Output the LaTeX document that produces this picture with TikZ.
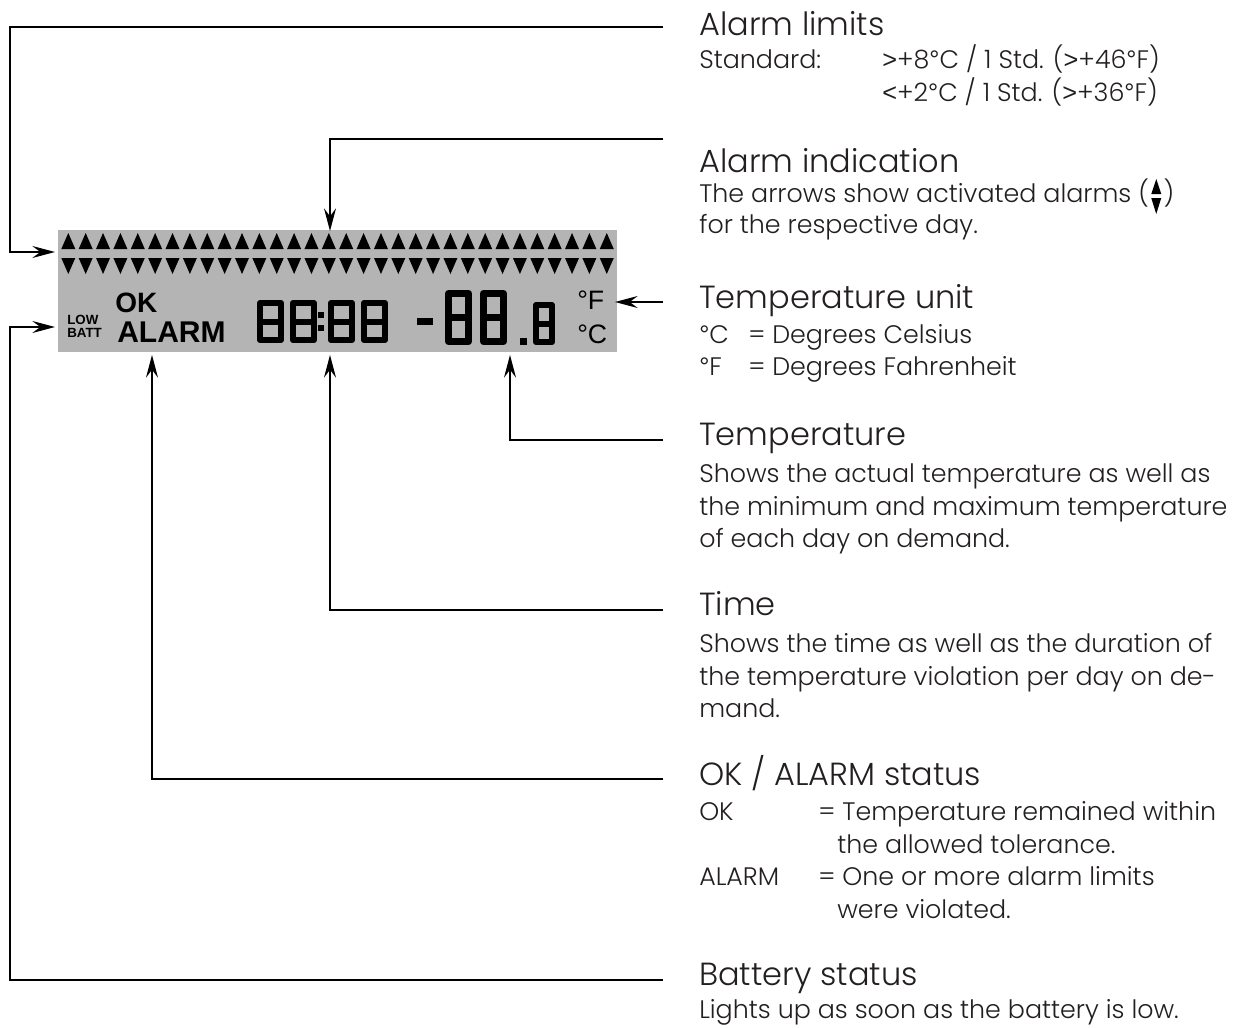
\documentclass[tikz,border=0pt]{standalone}
\usepackage{fontspec}
\usetikzlibrary{arrows.meta}
\newfontfamily\gothic{Poppins Light}
\newfontfamily\arial{Liberation Sans}
\newcommand\dg{{\arial °}}
\newcommand\gtr{{\arial >}}
\newcommand\lss{{\arial <}}
\definecolor{lcdgray}{RGB}{180,180,180}
\definecolor{ink}{RGB}{35,31,32}
\newcommand\lcddigit[5]{%
  \pgfmathsetmacro\hw{#5/2}%
  \draw[line width=#5*0.75pt, line join=round] (#1+\hw,#2+\hw) rectangle (#3-\hw,#4-\hw);
  \draw[line width=#5*0.75pt] (#1+\hw,{(#2+#4)/2}) -- (#3-\hw,{(#2+#4)/2});
}
\begin{document}
\begin{tikzpicture}[x=0.75pt,y=-0.75pt,
  conn/.style={line width=1pt, draw=black},
  arr/.style={conn, -{Stealth[length=17pt,width=9pt,inset=6pt]}},
  title/.style={anchor=base west, inner sep=0pt, text=ink, font=\gothic\fontsize{24pt}{28pt}\selectfont},
  body/.style={anchor=base west, inner sep=0pt, text=ink, font=\gothic\fontsize{19pt}{24pt}\selectfont},
  lcdbold/.style={anchor=base west, inner sep=0pt, text=black, font=\arial\bfseries},
  lcdreg/.style={anchor=base west, inner sep=0pt, text=black, font=\arial\fontsize{20pt}{24pt}\selectfont}]
\useasboundingbox (0,0) rectangle (1239,1028);
\fill[white] (0,0) rectangle (1239,1028);

% LCD panel
\node[fill=lcdgray, inner sep=0pt, minimum width=419.25pt, minimum height=91.5pt, anchor=north west] (lcd) at (58,230) {};
\foreach \i in {0,...,31}{
  \pgfmathsetmacro\cx{68.3+\i*17.37}
  \fill (\cx-7,249) -- (\cx+7,249) -- (\cx,233) -- cycle;
  \fill (\cx-7,258) -- (\cx+7,258) -- (\cx,274) -- cycle;
}
\node[lcdbold, font=\arial\bfseries\fontsize{10pt}{12pt}\selectfont] (low) at (67,324) {LOW};
\node[lcdbold, font=\arial\bfseries\fontsize{10pt}{12pt}\selectfont] (batt) at (67,337) {BATT};
\node[lcdbold, font=\arial\bfseries\fontsize{21pt}{24pt}\selectfont] (ok) at (115,312) {OK};
\node[lcdbold, font=\arial\bfseries\fontsize{22.5pt}{26pt}\selectfont] (alarm) at (117,342) {ALARM};
\node[lcdreg] (degF) at (577,309) {°F};
\node[lcdreg] (degC) at (577,343) {°C};
% digits
\lcddigit{257}{300}{284}{343}{6}
\lcddigit{290}{300}{317}{343}{6}
\fill (318,312) rectangle (324,318);
\fill (318,325) rectangle (324,331);
\lcddigit{328}{300}{355}{343}{6}
\lcddigit{361}{300}{388}{343}{6}
\fill (417,318) rectangle (433,325);
\lcddigit{445}{290}{472}{345}{7}
\lcddigit{480}{290}{507}{345}{7}
\fill (520,338) rectangle (527,345);
\lcddigit{533}{302}{555}{345}{6}

% connector points
\coordinate (limE) at (663,27);
\coordinate (limC1) at (10,27);
\coordinate (limC2) at (10,252);
\coordinate (limT) at (55,252);
\coordinate (indE) at (663,139);
\coordinate (indC) at (330,139);
\coordinate (indT) at (330,231);
\coordinate (unitE) at (663,302);
\coordinate (unitT) at (615,302);
\coordinate (tmpE) at (663,440);
\coordinate (tmpC) at (510,440);
\coordinate (tmpT) at (510,355);
\coordinate (timE) at (663,610);
\coordinate (timC) at (330,610);
\coordinate (timT) at (330,355);
\coordinate (staE) at (663,779);
\coordinate (staC) at (152,779);
\coordinate (staT) at (152,355);
\coordinate (batE) at (663,980);
\coordinate (batC1) at (10,980);
\coordinate (batC2) at (10,327);
\coordinate (batT) at (55,327);

\draw[arr] (limE) -- (limC1) -- (limC2) -- (limT);
\draw[arr] (indE) -- (indC) -- (indT);
\draw[arr] (unitE) -- (unitT);
\draw[arr] (tmpE) -- (tmpC) -- (tmpT);
\draw[arr] (timE) -- (timC) -- (timT);
\draw[arr] (staE) -- (staC) -- (staT);
\draw[arr] (batE) -- (batC1) -- (batC2) -- (batT);

% texts
\node[title] (tlim) at (699,35) {Alarm limits};
\node[body] (lim1) at (699,68) {Standard:};
\node[body] (lim2) at (882,68) {\gtr+8\dg C / 1 Std. (\gtr+46\dg F)};
\node[body] (lim3) at (882,101) {\lss+2\dg C / 1 Std. (\gtr+36\dg F)};

\node[title] (tind) at (699,172) {Alarm indication};
\node[body] (ind1) at (699,202) {The arrows show activated alarms (};
\coordinate (sym) at (ind1.base east);
\begin{scope}[shift={(sym)}]
  \fill (2,-8) -- (12,-8) -- (7,-23) -- cycle;
  \fill (2,-4) -- (12,-4) -- (7,12) -- cycle;
\end{scope}
\node[body] (ind1b) at ([xshift=10.5pt]sym) {)};
\node[body] (ind2) at (699,233) {for the respective day.};

\node[title] (tunit) at (699,308) {Temperature unit};
\node[body] (u1a) at (699,343) {\dg C};
\node[body] (u1b) at (748,343) {=};
\node[body] (u1c) at (772,343) {Degrees Celsius};
\node[body] (u2a) at (699,375) {\dg F};
\node[body] (u2b) at (748,375) {=};
\node[body] (u2c) at (772,375) {Degrees Fahrenheit};

\node[title] (ttmp) at (699,445) {Temperature};
\node[body] (t1) at (699,482) {Shows the actual temperature as well as};
\node[body] (t2) at (699,515) {the minimum and maximum temperature};
\node[body] (t3) at (699,547) {of each day on demand.};

\node[title] (ttim) at (699,615) {Time};
\node[body] (m1) at (699,652) {Shows the time as well as the duration of};
\node[body] (m2) at (699,685) {the temperature violation per day on de-};
\node[body] (m3) at (699,717) {mand.};

\node[title] (tsta) at (699,785) {OK / ALARM status};
\node[body] (s1a) at (699,820) {OK};
\node[body] (s1b) at (818,820) {= Temperature remained within};
\node[body] (s2) at (837,853) {the allowed tolerance.};
\node[body] (s3a) at (699,885) {ALARM};
\node[body] (s3b) at (818,885) {= One or more alarm limits};
\node[body] (s4) at (837,918) {were violated.};

\node[title] (tbat) at (699,985) {Battery status};
\node[body] (b1) at (699,1018) {Lights up as soon as the battery is low.};
\end{tikzpicture}
\end{document}
